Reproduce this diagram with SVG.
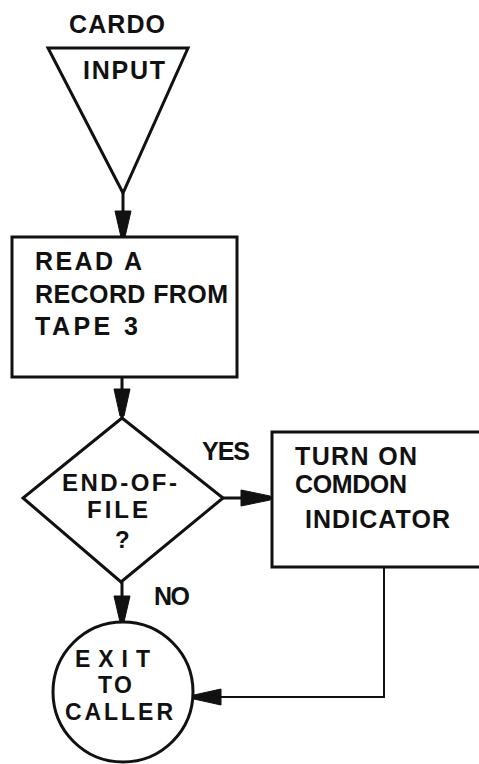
<svg xmlns="http://www.w3.org/2000/svg" width="479" height="764" viewBox="0 0 479 764">
<style>
  .shape { fill: #fff; stroke: #111; stroke-width: 3; stroke-linejoin: miter; }
  .line { fill: none; stroke: #111; stroke-width: 3; }
  .thin { fill: none; stroke: #111; stroke-width: 2; }
  .head { fill: #111; stroke: #111; stroke-width: 1; }
  text { font-family: "Liberation Sans", Arial, sans-serif; font-size: 25px; font-weight: bold; fill: #111; }
  .s24 { font-size: 24px; }
  .s23 { font-size: 23px; }
</style>
<rect width="479" height="764" fill="#fff"/>
<g id="connectors">
  <line class="line" x1="123" y1="193" x2="123" y2="237"/>
  <polygon class="head" points="115,211 131,211 125,237 121,237"/>
  <line class="line" x1="122" y1="377" x2="122" y2="418"/>
  <polygon class="head" points="114,389 130,389 124,416 120,416"/>
  <line class="line" x1="223" y1="498" x2="272" y2="498"/>
  <polygon class="head" points="241,490 241,506 270,500 270,496"/>
  <line class="line" x1="122" y1="582" x2="122" y2="623"/>
  <polygon class="head" points="114,596 130,596 124,622 120,622"/>
  <polyline class="thin" points="384,567 384,697 194,697"/>
  <polygon class="head" points="221,689 221,705 194,699 194,695"/>
</g>
<g id="input">
  <text x="69" y="33" textLength="96">CARDO</text>
  <polygon class="shape" points="48,48 188,48 123,193"/>
  <text x="83" y="79" textLength="82">INPUT</text>
</g>
<g id="read">
  <rect class="shape" x="12" y="237" width="225" height="140"/>
  <text x="35" y="270" textLength="107">READ A</text>
  <text x="35" y="303" textLength="193">RECORD FROM</text>
  <text x="35" y="335" textLength="103">TAPE 3</text>
</g>
<g id="eof">
  <polygon class="shape" points="122,418 223,498 121,582 23,498"/>
  <text class="s24" x="62" y="491" textLength="115">END-OF-</text>
  <text class="s24" x="87" y="518" textLength="61">FILE</text>
  <text class="s24" x="115" y="548">?</text>
  <text x="202" y="460" textLength="48">YES</text>
  <text x="154" y="605" textLength="36">NO</text>
</g>
<g id="comdon">
  <rect class="shape" x="272" y="432" width="212" height="135"/>
  <text x="295" y="465" textLength="122">TURN ON</text>
  <text x="295" y="493" textLength="112">COMDON</text>
  <text x="305" y="528" textLength="145">INDICATOR</text>
</g>
<g id="exit">
  <circle class="shape" cx="123" cy="692" r="70"/>
  <text class="s23" x="75" y="667" textLength="75">EXIT</text>
  <text class="s23" x="98" y="693" textLength="34">TO</text>
  <text class="s23" x="65" y="720" textLength="108">CALLER</text>
</g>
</svg>
